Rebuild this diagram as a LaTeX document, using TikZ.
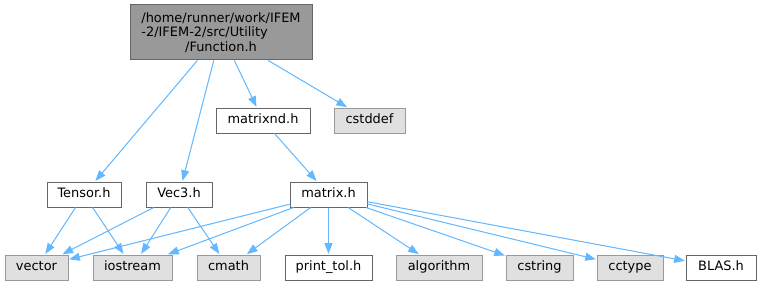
\documentclass[tikz,border=0pt]{standalone}
\usepackage{fontspec}
\setmainfont{DejaVu Sans}
\usepackage{calc}
\usetikzlibrary{arrows.meta}
\definecolor{edgeblue}{HTML}{63B8FF}
\definecolor{darkline}{HTML}{666666}
\definecolor{midline}{HTML}{999999}
\definecolor{lightfill}{HTML}{E0E0E0}
\tikzset{mainfile/.style={draw=darkline,fill=midline,line width=0.75pt,inner sep=0pt,align=center,minimum width=136.5pt,minimum height=41.25pt},hfile/.style={draw=darkline,fill=white,line width=0.75pt,inner sep=0pt,minimum height=18.75pt,text height=7pt,text depth=2pt},stdfile/.style={hfile,draw=midline,fill=lightfill},incl/.style={-{Triangle[length=8pt,width=6pt]},draw=edgeblue,fill=edgeblue,line width=0.75pt,shorten >=0.5pt}}

\begin{document}
\begin{tikzpicture}[x=0.75pt,y=-0.75pt,font=\fontsize{9.7}{10.9}\selectfont]
\useasboundingbox (0,0) rectangle (760,285);
\node[mainfile] (func) at (221,32.5) {/home/runner/work/IFEM\\\makebox[\widthof{/home/runner/work/IFEM}][l]{-2/IFEM-2/src/Utility}\\/Function.h};
\node[hfile,minimum width=70.5pt] (matrixnd) at (263,120.5) {matrixnd.h};
\node[stdfile,minimum width=53.25pt] (cstddef) at (369.5,120.5) {cstddef};
\node[hfile,minimum width=55.5pt] (tensor) at (84,194.5) {Tensor.h};
\node[hfile,minimum width=49.5pt] (vec3) at (179,194.5) {Vec3.h};
\node[hfile,minimum width=57.75pt] (matrix) at (328.5,194.5) {matrix.h};
\node[stdfile,minimum width=47.25pt] (vector) at (36.5,267.5) {vector};
\node[stdfile,minimum width=59.25pt] (iostream) at (132.5,267.5) {iostream};
\node[stdfile,minimum width=47.25pt] (cmath) at (228.5,267.5) {cmath};
\node[hfile,minimum width=65.25pt] (printtol) at (328.5,267.5) {print\_tol.h};
\node[stdfile,minimum width=64.5pt] (algorithm) at (439,267.5) {algorithm};
\node[stdfile,minimum width=50.25pt] (cstring) at (539.5,267.5) {cstring};
\node[stdfile,minimum width=49.5pt] (cctype) at (630,267.5) {cctype};
\node[hfile,minimum width=52.5pt] (blas) at (721,267.5) {BLAS.h};
% includes of Function.h
\draw[incl] (func)--(tensor); \draw[incl] (func)--(vec3); \draw[incl] (func)--(matrixnd); \draw[incl] (func)--(cstddef);
\draw[incl] (matrixnd)--(matrix);
\draw[incl] (tensor)--(vector); \draw[incl] (tensor)--(iostream);
\draw[incl] (vec3)--(vector); \draw[incl] (vec3)--(iostream); \draw[incl] (vec3)--(cmath);
% includes of matrix.h
\draw[incl] (matrix)--(vector); \draw[incl] (matrix)--(iostream); \draw[incl] (matrix)--(cmath); \draw[incl] (matrix)--(printtol);
\draw[incl] (matrix)--(algorithm); \draw[incl] (matrix)--(cstring); \draw[incl] (matrix)--(cctype); \draw[incl] (matrix)--(blas);
\end{tikzpicture}
\end{document}
